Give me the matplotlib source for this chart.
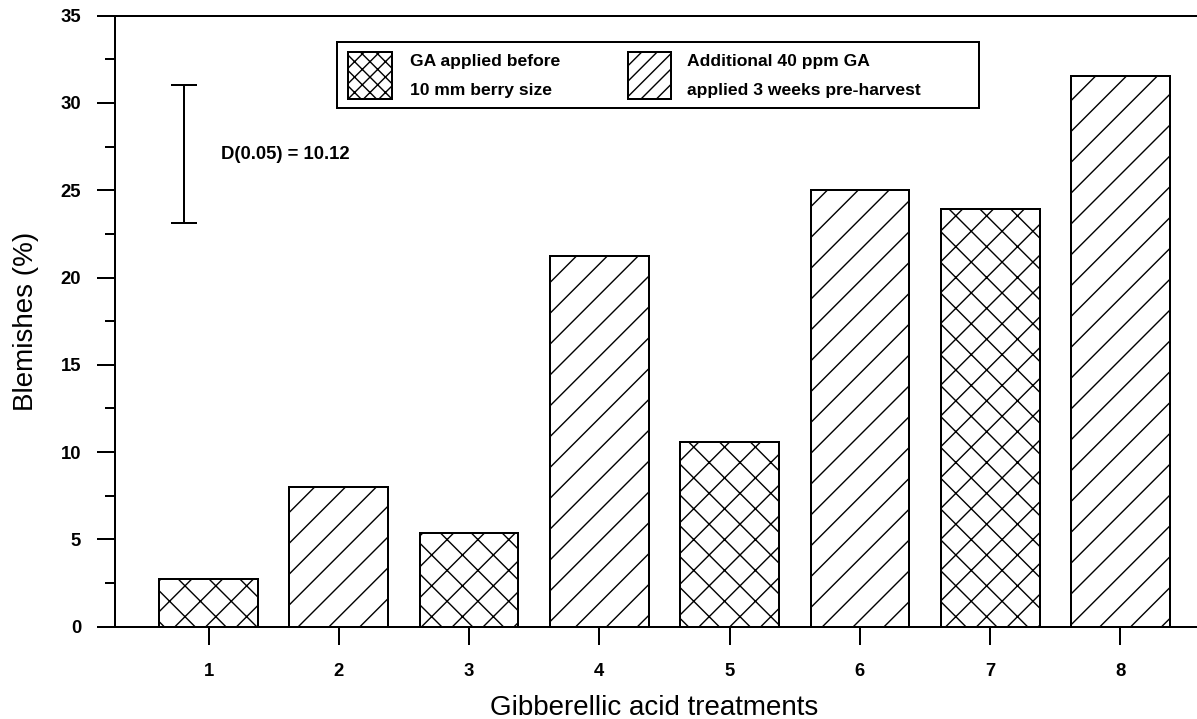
import matplotlib
matplotlib.use("Agg")
import matplotlib.pyplot as plt
from matplotlib.patches import Rectangle
from matplotlib.ticker import MultipleLocator, FixedLocator
from matplotlib.transforms import Affine2D

# Hatch cells are one inch wide in Agg, so the dpi sets the hatch spacing.
DPI = 185
W, H = 1197, 719


def pt(px):
    """Convert a pixel size to points at the output dpi."""
    return px * 72 / DPI


# Blemish incidence per gibberellic acid treatment
treatments = [1, 2, 3, 4, 5, 6, 7, 8]
blemishes = [2.75, 8.0, 5.35, 21.25, 10.6, 25.0, 23.9, 31.55]
timing = ["early", "late", "early", "late", "early", "late", "early", "late"]

legend_lines = {
    "early": ["GA applied before", "10 mm berry size"],
    "late": ["Additional 40 ppm GA", "applied 3 weeks pre-harvest"],
}
HATCH = {"early": "xx", "late": "//"}
LEGEND_HATCH = {"early": "xxxx", "late": "////"}

# Least significant difference bar
lsd_low, lsd_high = 23.1, 31.05
lsd_label = "D(0.05) = 10.12"

plt.rcParams["font.family"] = ["Liberation Sans", "DejaVu Sans"]
plt.rcParams["hatch.linewidth"] = pt(1.4)
plt.rcParams["hatch.color"] = "black"

fig = plt.figure(figsize=(W / DPI, H / DPI), dpi=DPI, facecolor="white")

left_px, right_px, top_px, bottom_px = 115, W, 15.7, 626.7
ax = fig.add_axes([left_px / W, 1 - bottom_px / H,
                   (right_px - left_px) / W, (bottom_px - top_px) / H])

lw = pt(2)
for t, h, kind in zip(treatments, blemishes, timing):
    ax.bar(t, h, width=0.758, facecolor="white", edgecolor="black",
           linewidth=lw, hatch=HATCH[kind], zorder=2)

ax.set_xlim(0.2817, 8.588)
ax.set_ylim(0, 35)

for side in ("left", "bottom", "top"):
    ax.spines[side].set_linewidth(lw)
ax.spines["right"].set_visible(False)

ax.xaxis.set_major_locator(FixedLocator(treatments))
ax.yaxis.set_major_locator(MultipleLocator(5))
ax.yaxis.set_minor_locator(MultipleLocator(2.5))
ax.tick_params(axis="both", which="major", direction="out", width=lw,
               length=pt(18), labelsize=pt(18.5))
ax.tick_params(axis="y", which="minor", direction="out", width=lw,
               length=pt(10))
ax.tick_params(axis="y", which="major", pad=pt(16))
ax.tick_params(axis="x", which="major", pad=pt(18))
for lab in ax.get_xticklabels() + ax.get_yticklabels():
    lab.set_fontweight("bold")

ax.set_xlabel("Gibberellic acid treatments", fontsize=pt(27.8))
ax.xaxis.label.set_va("baseline")
ax.xaxis.set_label_coords(0.4986, (H - 715 - (H - bottom_px)) / (bottom_px - top_px))
ax.set_ylabel("Blemishes (%)", fontsize=pt(27.8))
ax.yaxis.label.set_va("center")
ax.yaxis.set_label_coords((26 - left_px) / (right_px - left_px), 0.5)

# LSD bar with its label
lsd_x = 0.8135
lsd_mid = (lsd_low + lsd_high) / 2
ax.errorbar(lsd_x, lsd_mid, yerr=(lsd_high - lsd_low) / 2, fmt="none",
            ecolor="black", elinewidth=lw, capsize=pt(13.5), capthick=lw)
ax.text(lsd_x + 0.28, lsd_mid, lsd_label, fontsize=pt(18.5),
        fontweight="bold", va="center", ha="left")

# Legend box, laid out in pixel coordinates from the top-left corner
pix = Affine2D().scale(1 / W, -1 / H).translate(0, 1) + fig.transFigure
fig.patches.append(Rectangle((337, 41.5), 642, 66.5, transform=pix,
                             facecolor="white", edgecolor="black",
                             linewidth=lw, figure=fig))
for kind, px0, tx0 in (("early", 348.2, 410.4), ("late", 627.6, 687)):
    fig.patches.append(Rectangle((px0, 52.3), 43.5, 46.4, transform=pix,
                                 facecolor="white", edgecolor="black",
                                 linewidth=lw, hatch=LEGEND_HATCH[kind],
                                 figure=fig))
    for line, ty in zip(legend_lines[kind], (61.7, 91.0)):
        fig.text(tx0, ty, line, transform=pix, fontsize=pt(17.5),
                 fontweight="bold", va="center", ha="left")

fig.savefig("out.png", dpi=DPI, facecolor="white")
